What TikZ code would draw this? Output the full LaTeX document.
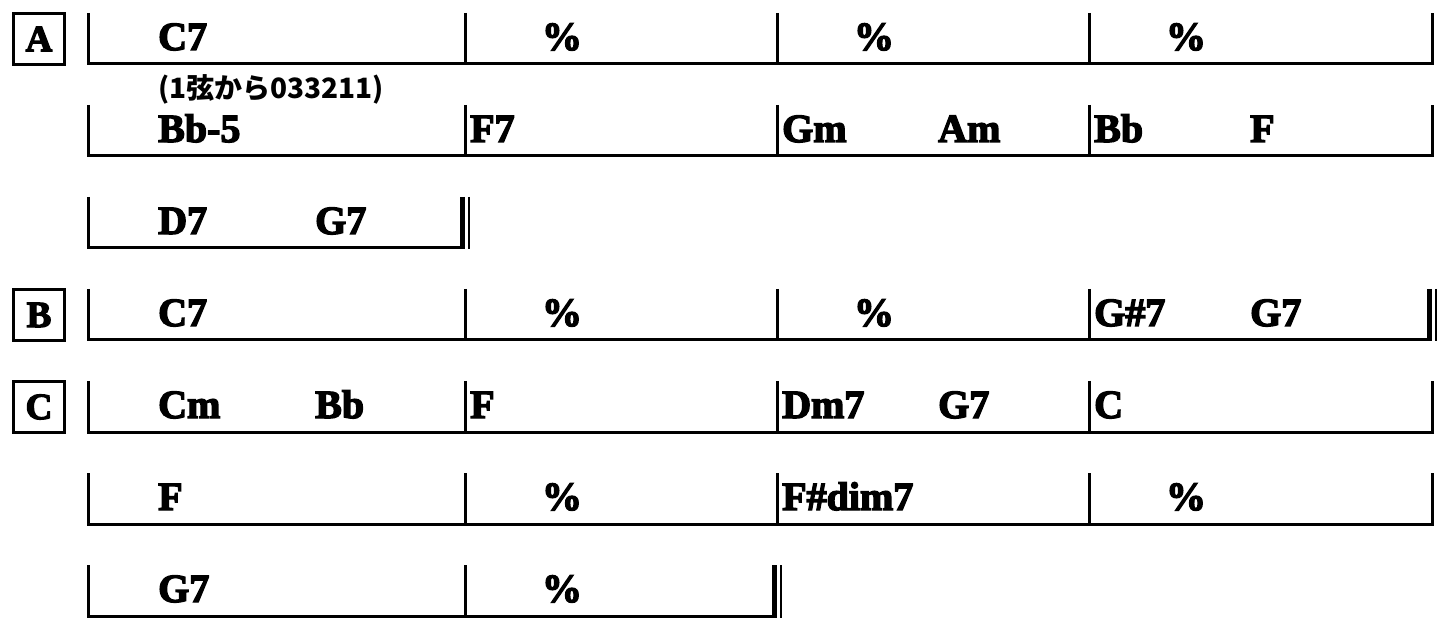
\documentclass[tikz,border=0pt]{standalone}
\usepackage{fontspec}
\newfontfamily\chordfont{Liberation Serif}[BoldFeatures={FakeBold=3.5}]
\newfontfamily\jpfont{Noto Sans CJK JP}
\usetikzlibrary{positioning}
\tikzstyle{chord} = [anchor=base west, inner sep=0pt,
font=\chordfont\bfseries\fontsize{40}{44}\selectfont]
\tikzstyle{bar} = [draw, line width=3pt]

\begin{document}
\begin{tikzpicture}[x=1pt, y=-1pt,
	secbox/.style={draw, line width=2.5pt, minimum size=51pt, inner sep=0pt,
		font=\chordfont\bfseries\fontsize{37}{40}\selectfont},
	simile/.style={chord, anchor=base},
	note/.style={anchor=base west, inner sep=0pt,
		font=\jpfont\bfseries\fontsize{28}{30}\selectfont}]
    \useasboundingbox (0,0) rectangle (1452,628);
	%% Section marks
    \node [secbox] (A) at (39,39) {A};
    \node [secbox] (B) at (39,315) {B};
    \node [secbox] (C) at (39,407) {C};
	%% Bar lines
    \foreach \y in {64,156,432,524} {
      \draw [bar] (88,\y-51) -- (88,\y) -- (1432,\y) -- (1432,\y-51);
      \foreach \x in {465,777,1089} \draw [bar] (\x,\y-51) -- (\x,\y);
    }
    \draw [bar] (88,289) -- (88,340) -- (1430,340);
    \foreach \x in {465,777,1089} \draw [bar] (\x,289) -- (\x,340);
    \draw [bar] (88,197) -- (88,248) -- (463,248);
    \draw [bar] (88,565) -- (88,616) -- (775,616);
    \draw [bar] (465,565) -- (465,616);
	%% Final bars
    \foreach \x/\y in {465/248, 1432/340, 777/616} {
      \draw [line width=5.5pt] (\x-2.5,\y-51) -- (\x-2.5,\y+1.5);
      \draw [line width=2.5pt] (\x+4,\y-51) -- (\x+4,\y+1.5);
    }
	%% Chords
    \foreach \x/\y/\c [count=\i] in {158/50/C7,
      158/142/Bb-5, 470/142/F7, 782/142/Gm, 938/142/Am, 1094/142/Bb, 1250/142/F,
      158/234/D7, 315/234/G7,
      158/326/C7, 1094/326/G\#7, 1250/326/G7,
      158/418/Cm, 315/418/Bb, 470/418/F, 782/418/Dm7, 938/418/G7, 1094/418/C,
      158/510/F, 782/510/F\#dim7,
      158/602/G7}
      \node [chord] (chord\i) at (\x,\y) {\c};
    \foreach \x/\y [count=\i] in {562/50, 874/50, 1186/50, 562/326, 874/326,
      562/510, 1186/510, 562/602}
      \node [simile] (sim\i) at (\x,\y) {\%};
	%% Fingering
    \node [note] (fingering) at (158,99) {(1弦から033211)};
\end{tikzpicture}
\end{document}
